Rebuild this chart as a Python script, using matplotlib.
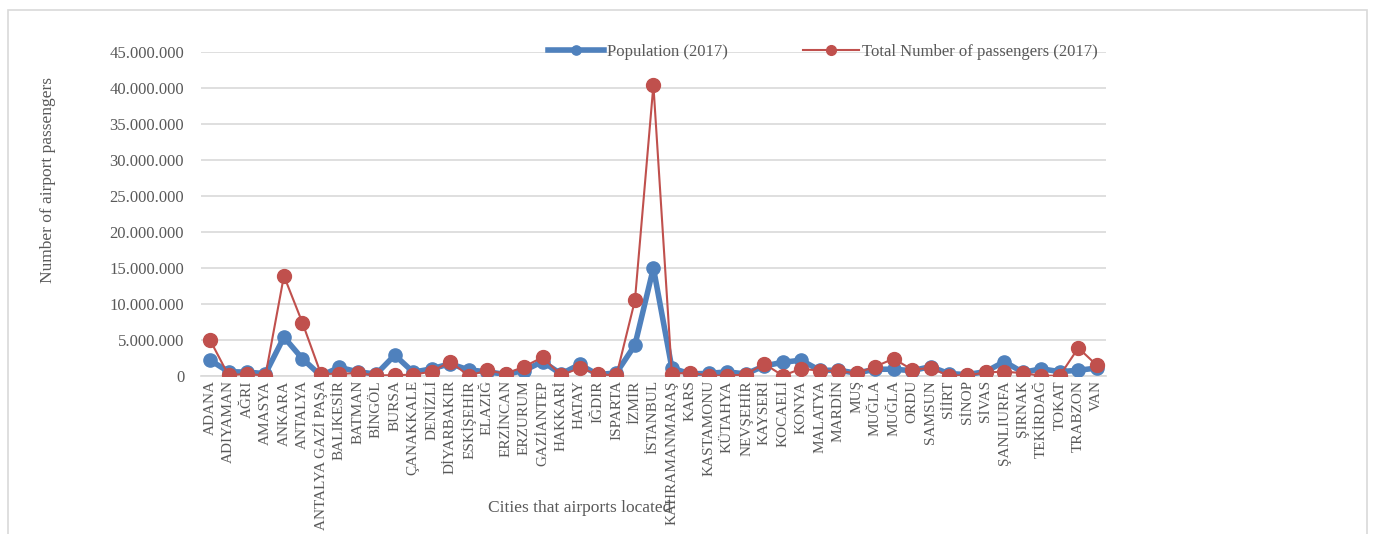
import matplotlib
matplotlib.use("Agg")
import matplotlib.pyplot as plt
from matplotlib.patches import Rectangle
from matplotlib.ticker import FuncFormatter, MultipleLocator

plt.rcParams['font.family'] = ['Liberation Serif', 'DejaVu Serif']

cities = ["ADANA", "ADIYAMAN", "AĞRI", "AMASYA", "ANKARA", "ANTALYA", "ANTALYA GAZİ PAŞA",
          "BALIKESİR", "BATMAN", "BİNGÖL", "BURSA", "ÇANAKKALE", "DENİZLİ", "DİYARBAKIR",
          "ESKİŞEHİR", "ELAZIĞ", "ERZİNCAN", "ERZURUM", "GAZİANTEP", "HAKKARİ", "HATAY",
          "IĞDIR", "ISPARTA", "İZMİR", "İSTANBUL", "KAHRAMANMARAŞ", "KARS", "KASTAMONU",
          "KÜTAHYA", "NEVŞEHİR", "KAYSERİ", "KOCAELİ", "KONYA", "MALATYA", "MARDİN", "MUŞ",
          "MUĞLA", "MUĞLA", "ORDU", "SAMSUN", "SİİRT", "SİNOP", "SİVAS", "ŞANLIURFA",
          "ŞIRNAK", "TEKİRDAĞ", "TOKAT", "TRABZON", "VAN"]

population = [2200000, 600000, 540000, 330000, 5400000, 2400000, 50000,
              1200000, 580000, 270000, 2900000, 530000, 1000000, 1700000,
              850000, 580000, 230000, 760000, 2000000, 280000, 1600000,
              190000, 440000, 4300000, 15000000, 1100000, 290000, 370000,
              570000, 290000, 1400000, 1900000, 2200000, 790000, 800000, 400000,
              940000, 940000, 740000, 1300000, 330000, 200000, 620000, 2000000,
              500000, 1000000, 600000, 800000, 1100000]

passengers = [5000000, 100000, 300000, 50000, 13900000, 7400000, 300000,
              300000, 400000, 100000, 100000, 200000, 600000, 2000000,
              30000, 800000, 300000, 1300000, 2600000, 100000, 1100000,
              250000, 80000, 10500000, 40400000, 300000, 450000, 60000,
              50000, 200000, 1700000, 50000, 1000000, 750000, 700000, 400000,
              1300000, 2400000, 900000, 1100000, 50000, 100000, 500000, 600000,
              400000, 30000, 50000, 3900000, 1500000]

W, H = 1375, 534
fig = plt.figure(figsize=(W / 100, H / 100), dpi=100)
fig.patches.append(Rectangle((8 / W, -0.05), (1367 - 8) / W, 1.05 - 10 / H,
                             transform=fig.transFigure, fill=False,
                             edgecolor='#D9D9D9', linewidth=1.2))

ax = fig.add_axes([200.8 / W, 1 - 376 / H, (1106 - 200.8) / W, (376 - 52) / H])

x = list(range(len(cities)))
blue = '#4F81BD'
red = '#C0504D'
ax.plot(x, population, color=blue, linewidth=4, marker='o', markersize=9.5,
        label='Population (2017)', zorder=3)
ax.plot(x, passengers, color=red, linewidth=1.5, marker='o', markersize=10,
        label='Total Number of passengers (2017)', zorder=4)

ax.set_xlim(-0.5, len(cities) - 0.5)
ax.set_ylim(0, 45000000)
ax.yaxis.set_major_locator(MultipleLocator(5000000))
ax.yaxis.set_major_formatter(FuncFormatter(lambda v, p: f"{int(v):,}".replace(",", ".")))
ax.grid(axis='y', color='#D9D9D9', linewidth=1.2, zorder=0)
ax.set_axisbelow(True)

for s in ['top', 'right', 'left']:
    ax.spines[s].set_visible(False)
ax.spines['bottom'].set_color('#D9D9D9')
ax.spines['bottom'].set_linewidth(1.2)

ax.set_xticks(x)
ax.set_xticklabels(cities, rotation=90, fontsize=11, color='#595959')
ax.tick_params(axis='x', length=0, pad=3)
ax.tick_params(axis='y', length=0, pad=12, labelsize=12, labelcolor='#595959')

ax.set_ylabel('Number of airport passengers', fontsize=12.5, color='#595959')
ax.yaxis.set_label_coords(-0.16, 0.605)
fig.text(580 / W, 1 - 508 / H, 'Cities that airports located', fontsize=12.5,
         color='#595959', ha='center', va='center')

leg = ax.legend(loc='center', bbox_to_anchor=(0.687, 1.0), ncol=2, frameon=False,
                fontsize=12, columnspacing=4.5, handlelength=3.4, handletextpad=0.15,
                markerscale=0.7)
for t in leg.get_texts():
    t.set_color('#595959')

fig.savefig('out.png', dpi=100)
